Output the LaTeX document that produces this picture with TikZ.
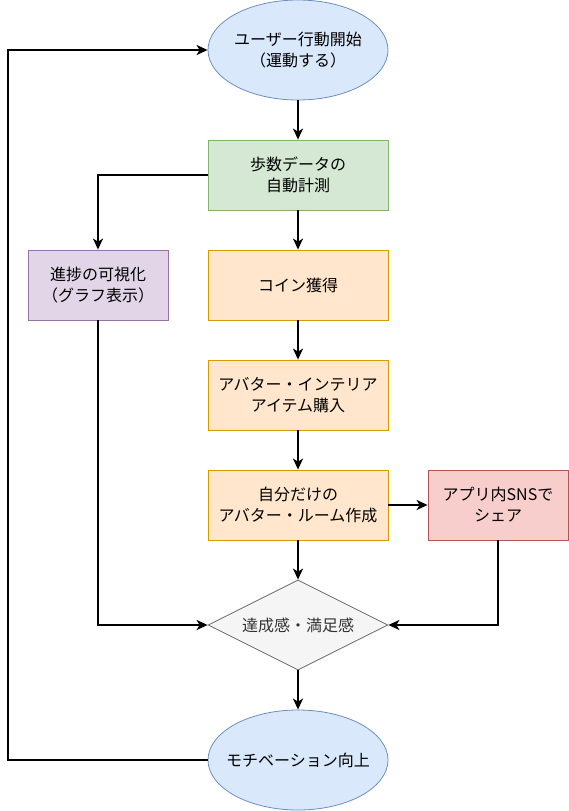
\documentclass[tikz,border=0pt]{standalone}
\usepackage{fontspec}
\setmainfont{Noto Sans CJK JP}
\usetikzlibrary{shapes.geometric,arrows.meta}

\definecolor{blueF}{HTML}{DAE8FC}\definecolor{blueD}{HTML}{6C8EBF}
\definecolor{greenF}{HTML}{D5E8D4}\definecolor{greenD}{HTML}{82B366}
\definecolor{orangeF}{HTML}{FFE6CC}\definecolor{orangeD}{HTML}{D79B00}
\definecolor{purpleF}{HTML}{E1D5E7}\definecolor{purpleD}{HTML}{9673A6}
\definecolor{redF}{HTML}{F8CECC}\definecolor{redD}{HTML}{B85450}
\definecolor{grayF}{HTML}{F5F5F5}\definecolor{grayD}{HTML}{666666}

\tikzset{
  base/.style={draw, line width=0.8pt, inner sep=0pt, align=center,
    font=\fontsize{16}{21}\selectfont},
  oval/.style={base, ellipse, inner xsep=-30pt, minimum width=180pt, minimum height=100pt,
    fill=blueF, draw=blueD},
  box/.style={base, rectangle, minimum width=180pt, minimum height=70pt},
  smallbox/.style={base, rectangle, minimum width=140pt, minimum height=70pt},
  choice/.style={base, diamond, aspect=2, inner xsep=-20pt, minimum width=180pt,
    minimum height=90pt, fill=grayF, draw=grayD, text=black!80},
  flow/.style={line width=1.8pt, -{Stealth[length=11pt,width=10pt,inset=3pt]}}
}

\begin{document}
\begin{tikzpicture}[x=1pt, y=-1pt]
  \useasboundingbox (0,0) rectangle (569,811);

  \node[oval] (start) at (298,50) {ユーザー行動開始\\（運動する）};
  \node[box, fill=greenF, draw=greenD] (count) at (298,175) {歩数データの\\自動計測};
  \node[box, fill=orangeF, draw=orangeD] (coin) at (298,285) {コイン獲得};
  \node[smallbox, fill=purpleF, draw=purpleD] (graph) at (98,285) {進捗の可視化\\（グラフ表示）};
  \node[box, fill=orangeF, draw=orangeD] (buy) at (298,395) {アバター・インテリア\\アイテム購入};
  \node[box, fill=orangeF, draw=orangeD] (room) at (298,505) {自分だけの\\アバター・ルーム作成};
  \node[smallbox, fill=redF, draw=redD] (sns) at (498,505) {アプリ内SNSで\\シェア};
  \node[choice] (joy) at (298,625) {達成感・満足感};
  \node[oval] (motiv) at (298,760) {モチベーション向上};

  \draw [flow] (start) -- (count);
  \draw [flow] (count) -- (coin);
  \draw [flow] (coin) -- (buy);
  \draw [flow] (buy) -- (room);
  \draw [flow] (room) -- (sns);
  \draw [flow] (room) -- (joy);
  \draw [flow] (joy) -- (motiv);
  \draw [flow] (count.west) -| (graph.north);
  \draw [flow] (graph.south) |- (joy.west);
  \draw [flow] (sns.south) |- (joy.east);
  \draw [flow] (motiv.west) -- (8,760) |- (start.west);

\end{tikzpicture}
\end{document}
